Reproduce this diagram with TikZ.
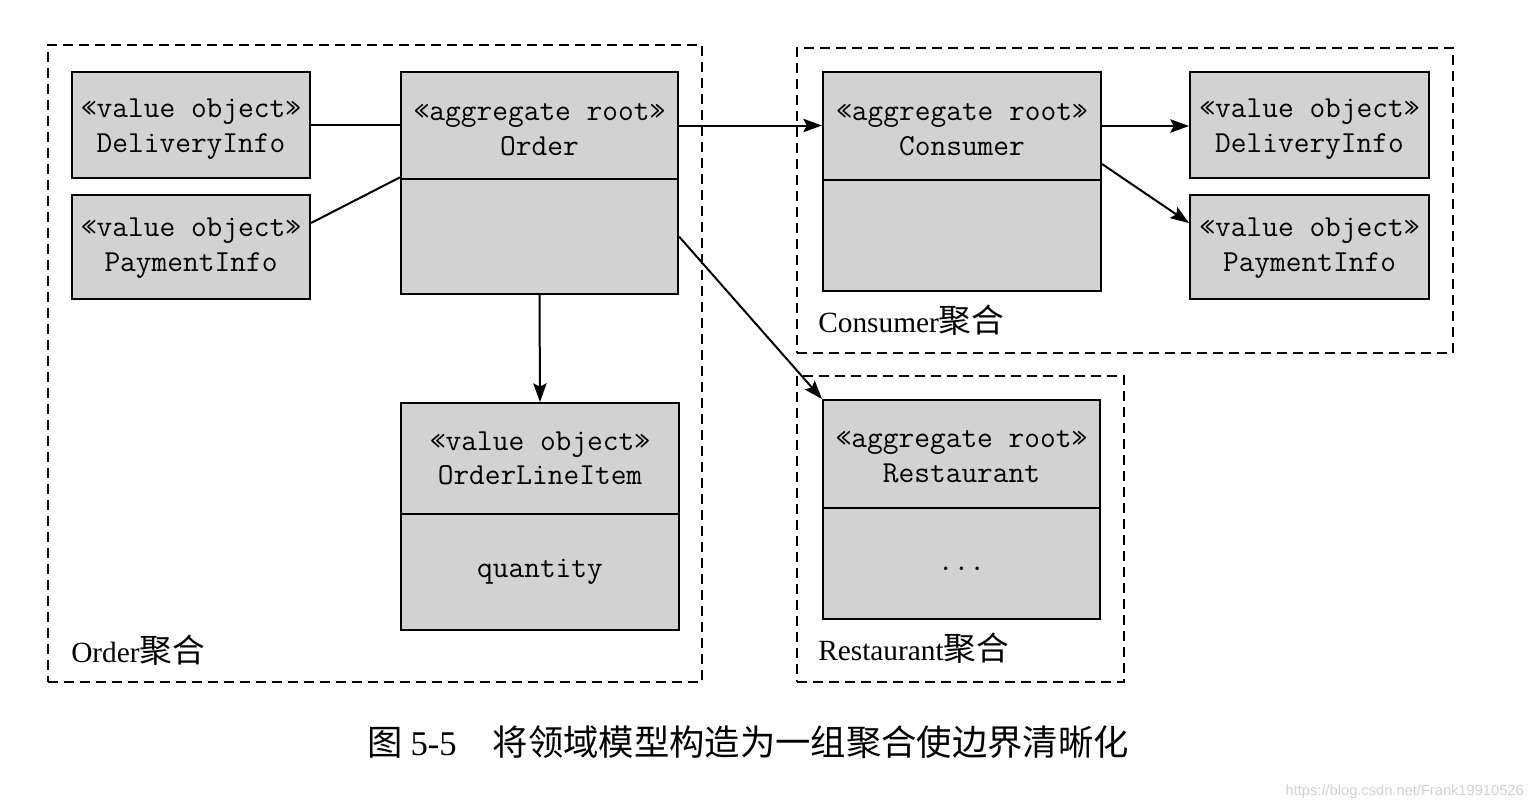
\documentclass[tikz,border=0pt]{standalone}
\usepackage{fontspec}
\setmainfont{Liberation Serif}
\setsansfont{Liberation Sans}
\newfontfamily\cjk{Noto Sans CJK SC}
\usetikzlibrary{arrows.meta}
\definecolor{boxfill}{RGB}{210,210,210}
\newcommand\boxfont{\ttfamily\addfontfeatures{FakeBold=1.2}\fontsize{22.9}{26}\selectfont}
\newcommand\aggfont{\rmfamily\fontsize{22}{26}\selectfont}
\newcommand\cjklab{\cjk\fontsize{24.5}{26}\selectfont}
\begin{document}
\begin{tikzpicture}[x=0.75pt,y=-0.75pt,
  part/.style 2 args={draw=black, line width=1.5pt, fill=boxfill,
    minimum width=#1*0.75pt, minimum height=#2*0.75pt,
    anchor=north west, inner sep=0pt, align=center, font=\boxfont},
  txt/.style 2 args={label={[inner sep=0pt, align=center, font=\boxfont, yshift=#1]center:#2}},
  aggr/.style 2 args={draw=black, line width=1.3pt, dash pattern=on 7.5pt off 4.5pt,
    minimum width=#1*0.75pt, minimum height=#2*0.75pt,
    anchor=north west, inner sep=0pt},
  agglabel/.style={anchor=base west, inner sep=0pt, font=\aggfont},
  conn/.style={line width=1.5pt},
  arr/.style={line width=1.5pt, -{Stealth[length=14pt,width=10pt,inset=2.5pt]}}]
\useasboundingbox (0,0) rectangle (1534,810);
\fill[white] (0,0) rectangle (1534,810);

% aggregates
\node[aggr={654}{637}] (aggOrder) at (47,44) {};
\node[aggr={656}{305}] (aggCons) at (796,47) {};
\node[aggr={327}{306}] (aggRest) at (796,375) {};
\node[agglabel] (lblOrder) at (71,662) {Order{\cjklab 聚合}};
\node[agglabel] (lblCons) at (818,332) {Consumer{\cjklab 聚合}};
\node[agglabel] (lblRest) at (818,660) {Restaurant{\cjklab 聚合}};

% Order aggregate
\node[part={238}{106}, txt={-3pt}{«value object»\\DeliveryInfo}] (dl) at (71,71) {};
\node[part={238}{104}, txt={-1pt}{«value object»\\PaymentInfo}] (pl) at (71,194) {};
\node[part={277}{107}, txt={-3pt}{«aggregate root»\\Order}] (orderT) at (400,71) {};
\node[part={277}{115}] (orderB) at (400,178) {};
\node[part={278}{111}, txt={0pt}{«value object»\\OrderLineItem}] (olT) at (400,402) {};
\node[part={278}{116}, txt={0pt}{quantity}] (olB) at (400,513) {};

% Consumer aggregate
\node[part={278}{108}, txt={-3pt}{«aggregate root»\\Consumer}] (consT) at (822,71) {};
\node[part={278}{111}] (consB) at (822,179) {};
\node[part={239}{106}, txt={-3pt}{«value object»\\DeliveryInfo}] (dr) at (1189,71) {};
\node[part={239}{104}, txt={-1pt}{«value object»\\PaymentInfo}] (pr) at (1189,194) {};

% Restaurant aggregate
\node[part={277}{108}, txt={-2pt}{«aggregate root»\\Restaurant}] (restT) at (822,399) {};
\node[part={277}{111}, txt={-4pt}{...}] (restB) at (822,507) {};

% connectors
\draw[conn] (dl.east) -- (dl.east -| orderT.west);
\draw[conn] ([yshift=18pt]pl.east) -- ([yshift=2pt]orderT.south west);
\draw[arr] (orderT.east) -- (orderT.east -| consT.west);
\draw[arr] (orderB.south) -- (olT.north);
\draw[arr] (orderB.east) -- (restT.north west);
\draw[arr] (consT.east) -- (consT.east -| dr.west);
\draw[arr] ([yshift=-28.5pt]consT.east) -- ([yshift=18pt]pr.west);

% caption
\node[anchor=west, inner sep=0pt, font=\fontsize{26}{30}\selectfont] (caption) at (367,742)
  {{\cjk\fontsize{26.5}{30}\selectfont 图}\hspace{6pt}5-5\hspace{27pt}{\cjk\fontsize{26.5}{30}\selectfont 将领域模型构造为一组聚合使边界清晰化}};
\node[anchor=east, inner sep=0pt, text=black!18, font=\sffamily\fontsize{11}{13}\selectfont] (wm) at (1524,792)
  {https://blog.csdn.net/Frank19910526};
\end{tikzpicture}
\end{document}
